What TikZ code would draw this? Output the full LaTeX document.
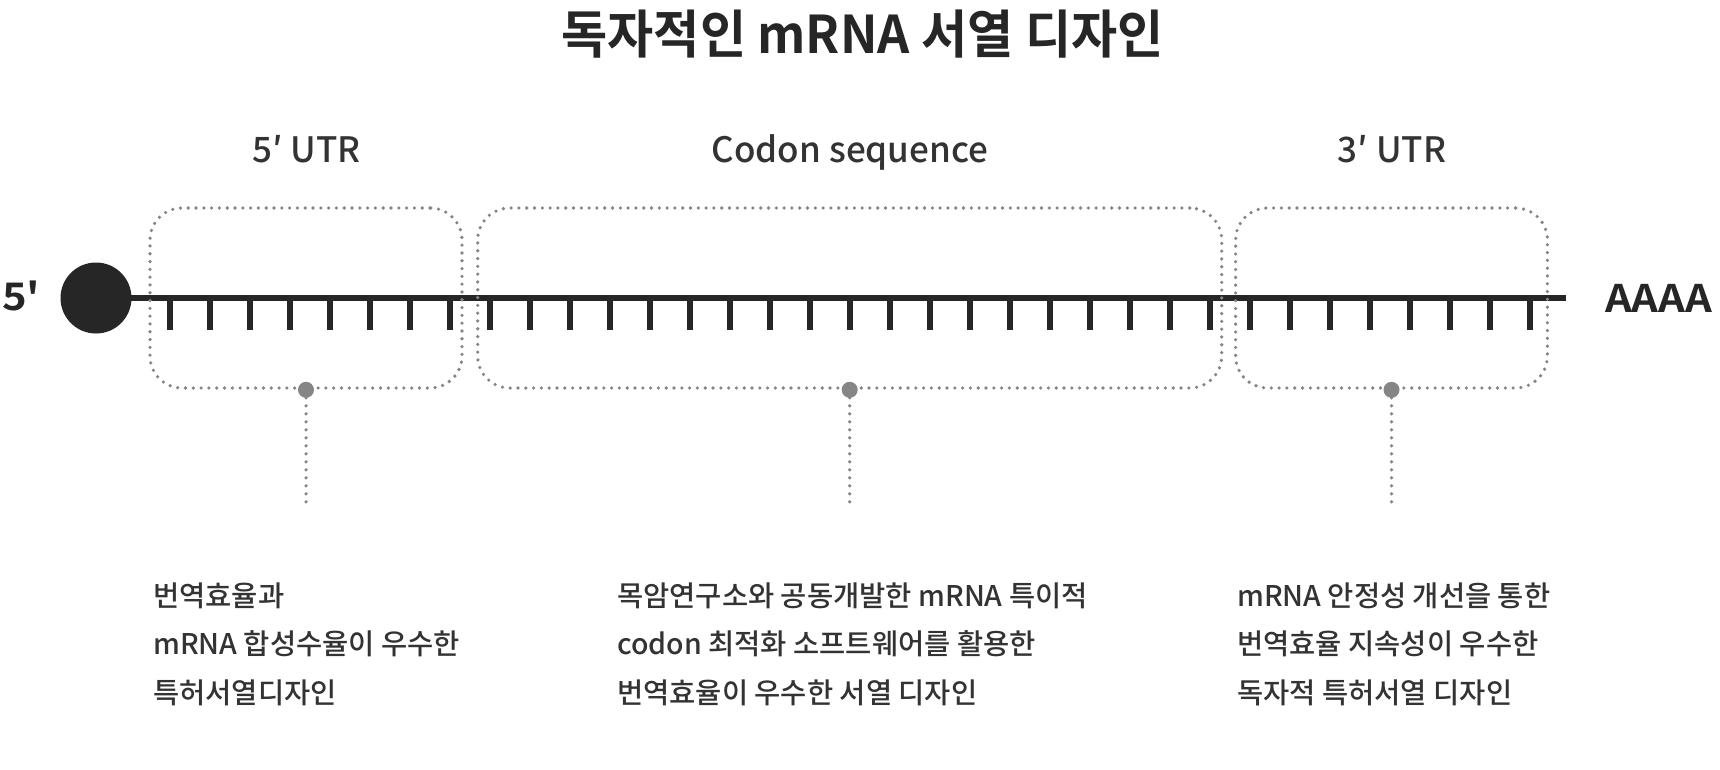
\documentclass[tikz,border=0pt]{standalone}
\usepackage{fontspec}
\setmainfont{Noto Sans CJK KR Medium}[Ligatures=TeXOff]
\newfontfamily\titlefont{Noto Sans CJK KR Bold}[FakeStretch=0.965]
\newfontfamily\endfont{Noto Sans CJK KR Bold}[FakeStretch=1.1,Ligatures=TeXOff]
\definecolor{ink}{HTML}{262626}
\definecolor{dotgray}{HTML}{858585}
\definecolor{txt}{HTML}{333333}
\tikzset{
  regionbox/.style={rectangle, draw=dotgray, line width=3.6pt, dash pattern=on 0pt off 7.8pt, line cap=round, rounded corners=32pt, inner sep=0pt, minimum height=180pt},
  leader/.style={draw=dotgray, line width=3.6pt, dash pattern=on 0pt off 8pt, line cap=round},
  pin/.style={circle, fill=dotgray, inner sep=0pt, minimum size=16pt},
  codontick/.style={draw=ink, line width=6pt},
  strand/.style={draw=ink, line width=6pt},
  heading/.style={font=\fontsize{35}{40}\selectfont, text=txt, inner sep=0pt, anchor=base},
  endlabel/.style={font=\endfont\fontsize{38}{40}\selectfont, text=ink, inner sep=0pt, anchor=base west},
  body/.style={font=\fontsize{28.5}{48.5}\selectfont, text=txt, align=left, inner sep=0pt, anchor=base west},
}
\begin{document}
\begin{tikzpicture}[x=1pt,y=-1pt]
\useasboundingbox[fill=white] (0,0) rectangle (1720,770);
% title
\node[font=\titlefont\fontsize{52}{56}\selectfont, text=ink, inner sep=0pt, anchor=base] (title) at (862.5,54) {독자적인 mRNA 서열 디자인};
% headings
\node[heading] (h1) at (306.7,162.3) {5′ UTR};
\node[heading] (h2) at (850,162.3) {Codon sequence};
\node[heading] (h3) at (1392,162.3) {3′ UTR};
% strand
\node[circle, fill=ink, inner sep=0pt, minimum size=71pt] (cap) at (96,298) {};
\coordinate (tail) at (1566,298);
\draw[strand] (cap.center) -- (tail);
\foreach \k in {0,...,34} {
  \draw[codontick] ({170+40*\k},298) -- ({170+40*\k},330);
}
\node[endlabel] (five) at (2,310.7) {5'};
\node[endlabel] (polya) at (1605,312) {AAAA};
% region boxes
\node[regionbox, minimum width=312pt] (utr5) at (306,298) {};
\node[regionbox, minimum width=744pt] (cds) at (849.7,298) {};
\node[regionbox, minimum width=311.8pt] (utr3) at (1391.5,298) {};
% leaders
\coordinate (e1) at (306,508);
\coordinate (e2) at (849.7,508);
\coordinate (e3) at (1391.5,508);
\draw[leader] (utr5.south) -- (e1);
\draw[leader] (cds.south) -- (e2);
\draw[leader] (utr3.south) -- (e3);
\node[pin] (p1) at (utr5.south) {};
\node[pin] (p2) at (cds.south) {};
\node[pin] (p3) at (utr3.south) {};
% descriptions (anchor = baseline of last line)
\node[body] (d1) at (153,703) {번역효율과\\mRNA 합성수율이 우수한\\특허서열디자인};
\node[body] (d2) at (617,703) {목암연구소와 공동개발한 mRNA 특이적\\codon 최적화 소프트웨어를 활용한\\번역효율이 우수한 서열 디자인};
\node[body] (d3) at (1237,703) {mRNA 안정성 개선을 통한\\번역효율 지속성이 우수한\\독자적 특허서열 디자인};
\end{tikzpicture}
\end{document}
